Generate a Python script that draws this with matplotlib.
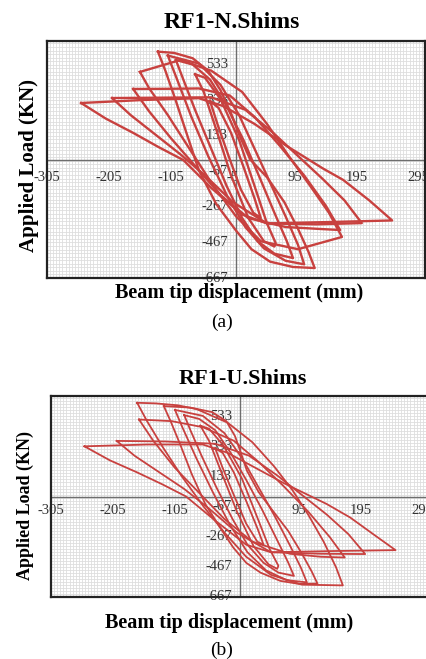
#!/usr/bin/env python3

# Hysteresis loops (load vs beam tip displacement) for RF1 with N / U shims

import numpy as np
from matplotlib import pyplot as plt
import matplotlib
from matplotlib.transforms import offset_copy

params = {
    'font.family': ['Liberation Serif', 'DejaVu Serif'],
    'figure.dpi': 100,
}
matplotlib.rcParams.update(params)

# tick labels as printed on the chart
x_ticks = [-305, -205, -105, -5, 95, 195, 295]
y_ticks = [533, 333, 133, -67, -267, -467, -667]

# ---- panel (a): RF1-N.Shims, loops (mm, kN)
a1_disp = [-42, -30, -12, 8, 28, 40, 30, 12, -8, -28, -42]
a1_load = [330, 200, 20, -170, -300, -330, -220, -40, 150, 290, 330]

a2_disp = [-66, -52, -32, -8, 20, 45, 62, 64, 50, 30, 5, -25, -50, -66]
a2_load = [480, 380, 170, -90, -330, -460, -490, -470, -360, -150, 110, 340, 460, 480]

a3_disp = [-97, -85, -65, -40, -15, 10, 35, 62, 92, 82, 62, 38, 12, -15, -42, -70, -97]
a3_load = [560, 450, 270, 60, -150, -330, -460, -530, -555, -460, -300, -100, 110, 300, 450, 535, 560]

a4_disp = [-126, -114, -98, -80, -60, -32, 0, 25, 55, 92, 127,
           117, 100, 78, 50, 23, 5, -8, -25, -45, -70, -100, -126]
a4_load = [607, 500, 340, 150, -60, -250, -400, -505, -575, -605, -611,
           -520, -390, -240, -100, 0, 140, 260, 390, 500, 570, 600, 607]

a9_disp = [-110, -95, -72, -45, -15, 15, 45, 80, 110, 100, 80, 55, 30, 5, -25, -60, -110]
a9_load = [585, 450, 240, 20, -200, -380, -500, -570, -590, -480, -320, -130, 60, 250, 420, 540, 585]

a5_disp = [-155, -140, -110, -75, -40, 0, 40, 100, 171, 150, 120, 85, 50, 10, -40, -90, -155]
a5_load = [493, 400, 250, 60, -130, -320, -460, -505, -436, -300, -150, 20, 200, 380, 500, 560, 493]

a6_disp = [-166, -140, -105, -65, -25, 20, 80, 130, 168, 145, 110, 70, 30, -10, -60, -110, -166]
a6_load = [397, 270, 120, -40, -200, -330, -380, -390, -397, -260, -90, 80, 240, 360, 400, 398, 397]

a7_disp = [-200, -170, -130, -90, -50, -5, 50, 130, 203, 175, 140, 100, 60, 15, -40, -120, -200]
a7_load = [346, 250, 140, 30, -90, -240, -360, -365, -358, -230, -110, 20, 150, 280, 350, 348, 346]

a8_disp = [-250, -210, -166, -125, -85, -40, 10, 50, 150, 252,
           215, 173, 140, 117, 80, 30, -20, -60, -150, -250]
a8_load = [318, 230, 150, 70, -3, -160, -310, -360, -352, -343,
           -230, -115, -50, 0, 80, 200, 300, 345, 335, 318]

# ---- panel (b): RF1-U.Shims
b1_disp = [-40, -28, -10, 10, 28, 38, 28, 10, -10, -28, -40]
b1_load = [320, 190, 10, -180, -300, -320, -210, -30, 160, 290, 320]

b2_disp = [-64, -50, -30, -5, 22, 46, 60, 62, 48, 28, 3, -27, -50, -64]
b2_load = [470, 370, 160, -100, -330, -450, -480, -460, -350, -140, 120, 340, 450, 470]

b3_disp = [-90, -80, -62, -38, -12, 12, 38, 62, 87, 78, 60, 36, 10, -15, -40, -66, -90]
b3_load = [540, 440, 270, 60, -150, -320, -440, -505, -527, -440, -290, -90, 110, 290, 440, 515, 540]

b4_disp = [-123, -112, -96, -78, -56, -30, -11, 10, 33, 65, 95, 125,
           116, 100, 78, 52, 30, 11, 0, -8, -22, -45, -80, -123]
b4_load = [600, 500, 340, 150, -50, -220, -338, -440, -505, -560, -580, -578,
           -500, -380, -230, -90, 30, 173, 307, 400, 500, 560, 590, 600]

b9_disp = [-105, -92, -70, -44, -16, 12, 42, 75, 108, 98, 80, 56, 30, 4, -25, -60, -105]
b9_load = [575, 450, 250, 30, -190, -370, -490, -555, -570, -470, -320, -130, 60, 250, 420, 535, 575]

b5_disp = [-166, -150, -125, -95, -60, -25, 10, 50, 100, 166,
           155, 135, 110, 85, 55, 20, -20, -70, -100, -136, -166]
b5_load = [622, 500, 330, 140, -60, -240, -400, -520, -585, -590,
           -470, -300, -120, 40, 200, 360, 490, 580, 605, 618, 622]

b6_disp = [-163, -140, -105, -65, -25, 20, 80, 130, 169, 145, 110, 70, 30, -10, -60, -110, -163]
b6_load = [511, 370, 190, 20, -150, -300, -380, -400, -405, -270, -100, 70, 230, 370, 460, 500, 511]

b7_disp = [-199, -170, -130, -90, -50, -5, 50, 130, 202, 175, 140, 100, 60, 15, -40, -120, -199]
b7_load = [369, 270, 160, 50, -80, -240, -370, -380, -382, -250, -120, 10, 140, 270, 350, 365, 369]

b8_disp = [-251, -210, -166, -125, -87, -40, 10, 50, 150, 251,
           215, 178, 140, 110, 70, 25, -20, -60, -150, -251]
b8_load = [333, 240, 160, 80, 0, -160, -320, -370, -362, -356,
           -250, -140, -50, 10, 90, 190, 290, 345, 345, 333]

loops_a = [(a1_disp, a1_load), (a2_disp, a2_load), (a3_disp, a3_load), (a9_disp, a9_load),
           (a4_disp, a4_load), (a5_disp, a5_load), (a6_disp, a6_load), (a7_disp, a7_load),
           (a8_disp, a8_load)]
loops_b = [(b1_disp, b1_load), (b2_disp, b2_load), (b3_disp, b3_load), (b9_disp, b9_load),
           (b4_disp, b4_load), (b5_disp, b5_load), (b6_disp, b6_load), (b7_disp, b7_load),
           (b8_disp, b8_load)]

red = '#C8413F'


def draw_panel(ax, loops, xlab_drop, lw):
    ax.set_xlim(-305, 305)
    ax.set_ylim(-667, 667)

    # fine grid like the excel sheet
    ax.set_xticks(np.arange(-305, 306, 5), minor=True)
    ax.set_yticks(np.arange(-667, 668, 20), minor=True)
    ax.set_xticks([])
    ax.set_yticks([])
    ax.tick_params(which='both', length=0, labelbottom=False, labelleft=False)
    ax.grid(which='minor', color='#DEDEDE', lw=0.6)
    ax.set_axisbelow(True)

    for s in ax.spines.values():
        s.set_linewidth(1.6)
        s.set_color('#222222')

    ax.axhline(0, color='#6E6E6E', lw=1.0, zorder=1)
    ax.axvline(0, color='#6E6E6E', lw=1.0, zorder=1)

    tx = offset_copy(ax.transData, fig=ax.figure, x=0, y=-xlab_drop, units='dots')
    for v in x_ticks:
        ax.text(v, 0, str(v), transform=tx, ha='center', va='center',
                fontsize=10.5, color='#333333', clip_on=False, zorder=2)
    ty = offset_copy(ax.transData, fig=ax.figure, x=-8, y=0, units='dots')
    for v in y_ticks:
        ax.text(0, v, str(v), transform=ty, ha='right', va='center',
                fontsize=10.5, color='#333333', clip_on=False, zorder=2)

    for d, p in loops:
        ax.plot(d, p, color=red, lw=lw, zorder=3, solid_joinstyle='round')


fig = plt.figure(figsize=(4.27, 6.59))
W, H = 427.0, 659.0

# panel (a)
ax1 = fig.add_axes([47 / W, 1 - 278 / H, 378 / W, 237 / H])
draw_panel(ax1, loops_a, 18, 1.7)
fig.text(232 / W, 1 - 23 / H, 'RF1-N.Shims', ha='center', va='center',
         fontsize=17, fontweight='bold')
fig.text(29 / W, 1 - 166 / H, 'Applied Load (KN)', ha='center', va='center',
         rotation=90, fontsize=15, fontweight='bold')
fig.text(239 / W, 1 - 293 / H, 'Beam tip displacement (mm)', ha='center', va='center',
         fontsize=14.5, fontweight='bold')
fig.text(222 / W, 1 - 322 / H, '(a)', ha='center', va='center', fontsize=14)

# panel (b)
ax2 = fig.add_axes([51 / W, 1 - 597 / H, 378 / W, 201 / H])
draw_panel(ax2, loops_b, 14, 1.3)
fig.text(243 / W, 1 - 379 / H, 'RF1-U.Shims', ha='center', va='center',
         fontsize=16, fontweight='bold')
fig.text(25 / W, 1 - 505 / H, 'Applied Load (KN)', ha='center', va='center',
         rotation=90, fontsize=13, fontweight='bold')
fig.text(229 / W, 1 - 623 / H, 'Beam tip displacement (mm)', ha='center', va='center',
         fontsize=14.5, fontweight='bold')
fig.text(222 / W, 1 - 650 / H, '(b)', ha='center', va='center', fontsize=14)

plt.savefig('out.png', dpi=100)
